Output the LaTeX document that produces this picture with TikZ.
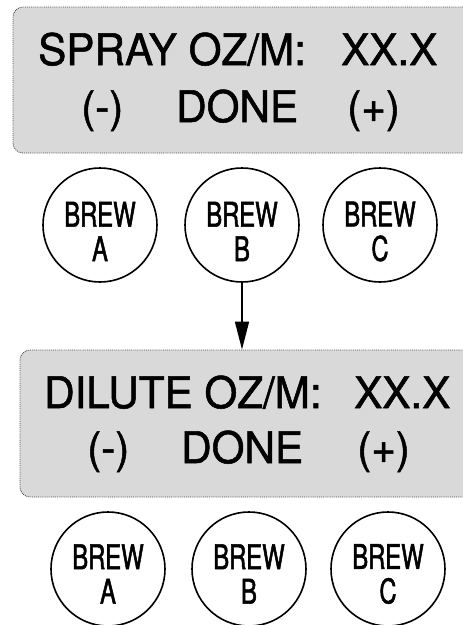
\documentclass[tikz,border=0pt]{standalone}
\usepackage{fontspec}
\setmainfont{TeX Gyre Heros}[FakeBold=1.2]
\newfontfamily\bigfont[FakeBold=1.2,FakeStretch=0.97]{TeX Gyre Heros}
\newfontfamily\condfont[FakeStretch=0.7,FakeBold=1.5]{TeX Gyre Heros}
\usetikzlibrary{arrows.meta}
\tikzset{
  screen/.style={draw=black!70, densely dotted, line width=0.9pt, fill=black!15, rounded corners=10pt, inner sep=0pt},
  bigtxt/.style={font=\bigfont\fontsize{43.5}{43.5}\selectfont, inner sep=0pt, anchor=base west},
  brewbtn/.style={circle, draw=black, line width=1.6pt, minimum size=114pt, inner sep=0pt},
  brewlbl/.style={font=\condfont\fontsize{34}{34.5}\selectfont, align=center, inner sep=0pt},
  flow/.style={line width=1.6pt, -{Triangle[length=28pt,width=14pt]}}
}
\begin{document}
\begin{tikzpicture}[x=1pt,y=-1pt]
\useasboundingbox (0,0) rectangle (463,625);
% top screen
\node[screen, minimum width=462pt, minimum height=146pt] (s1) at (244,80) {};
\node[bigtxt] (t1a) at (38,65) {SPRAY OZ/M:};
\node[bigtxt] (t1b) at (341,65) {XX.X};
\node[bigtxt] (t1c) at (81,122) {(-)};
\node[bigtxt] (t1d) at (176,122) {DONE};
\node[bigtxt] (t1e) at (347,122) {(+)};
% first row of buttons
\node[brewbtn] (a1) at (100,225) {};
\node[brewbtn] (b1) at (242,225) {};
\node[brewbtn] (c1) at (380,225) {};
\node[brewlbl] (la1) at (100,231.5) {BREW\\A};
\node[brewlbl] (lb1) at (242,231.5) {BREW\\B};
\node[brewlbl] (lc1) at (380,231.5) {BREW\\C};
% bottom screen
\node[screen, minimum width=460pt, minimum height=147pt] (s2) at (250,423.5) {};
\node[bigtxt] (t2a) at (44,408) {DILUTE OZ/M:};
\node[bigtxt] (t2b) at (354,408) {XX.X};
\node[bigtxt] (t2c) at (87,463) {(-)};
\node[bigtxt] (t2d) at (181,463) {DONE};
\node[bigtxt] (t2e) at (357,463) {(+)};
% second row of buttons
\node[brewbtn] (a2) at (108,569) {};
\node[brewbtn] (b2) at (249,569) {};
\node[brewbtn] (c2) at (388,569) {};
\node[brewlbl] (la2) at (108,574) {BREW\\A};
\node[brewlbl] (lb2) at (249,574) {BREW\\B};
\node[brewlbl] (lc2) at (388,574) {BREW\\C};
% arrow
\draw[flow] (b1.south) -- (b1.south |- s2.north);
\end{tikzpicture}
\end{document}
